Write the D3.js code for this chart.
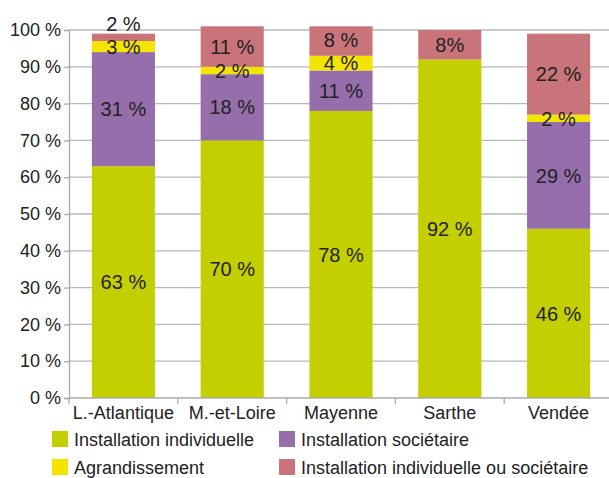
<!DOCTYPE html>
<html>
<head>
<meta charset="utf-8">
<script src="https://cdn.jsdelivr.net/npm/d3@7"></script>
<style>
  body { margin: 0; background: #fff; }
  text { font-family: "Liberation Sans", Arial, sans-serif; fill: #222; }
</style>
</head>
<body>
<svg id="chart" width="609" height="478"></svg>
<script>
// Départements
const categories = ["L.-Atlantique", "M.-et-Loire", "Mayenne", "Sarthe", "Vendée"];
// Share of each type of installation (%)
const individuelle = [63, 70, 78, 92, 46];
const societaire = [31, 18, 11, 0, 29];
const agrandissement = [3, 2, 4, 0, 2];
const indivOuSoc = [2, 11, 8, 8, 22];
// Label text of the top segment ("%" spacing as printed)
const pinkLabels = ["2 %", "11 %", "8 %", "8%", "22 %"];
const yTicks = [0, 10, 20, 30, 40, 50, 60, 70, 80, 90, 100];

const seriesNames = ["Installation individuelle", "Installation sociétaire", "Agrandissement", "Installation individuelle ou sociétaire"];
const colors = ["#c3cf00", "#966eab", "#f4e500", "#c8747a"];

const svg = d3.select("#chart");
const x0 = 69, x1 = 613, yTop = 30, yBottom = 398;

const x = d3.scaleBand().domain(categories).range([x0, x1]).paddingInner(0.42).paddingOuter(0.21);
const y = d3.scaleLinear().domain([0, 100]).range([yBottom, yTop]);

// Gridlines
svg.append("g").selectAll("line").data(yTicks.filter(d => d > 0)).join("line")
  .attr("x1", x0).attr("x2", 609)
  .attr("y1", d => y(d)).attr("y2", d => y(d))
  .attr("stroke", "#b8b8b8").attr("stroke-width", 1.3);

// Stacked data
const rows = categories.map((c, i) => ({
  cat: c, s0: individuelle[i], s1: societaire[i], s2: agrandissement[i], s3: indivOuSoc[i], idx: i
}));
const stack = d3.stack().keys(["s0", "s1", "s2", "s3"]);
const layers = stack(rows);

svg.append("g").selectAll("g").data(layers).join("g")
  .attr("fill", (d, i) => colors[i])
  .selectAll("rect").data(d => d).join("rect")
  .attr("x", d => x(d.data.cat))
  .attr("width", x.bandwidth())
  .attr("y", d => y(d[1]))
  .attr("height", d => y(d[0]) - y(d[1]));

// Segment labels: centred in each segment, pushed up when they would collide
const labelG = svg.append("g").attr("text-anchor", "middle").style("font-size", "20px");
const minGap = 23;
categories.forEach((c, ci) => {
  let prevY = Infinity;
  layers.forEach((layer, li) => {
    const d = layer[ci];
    const v = d[1] - d[0];
    if (v <= 0) return;
    let cy = y((d[0] + d[1]) / 2);
    if (prevY - cy < minGap) cy = prevY - minGap;
    prevY = cy;
    labelG.append("text")
      .attr("x", x(c) + x.bandwidth() / 2)
      .attr("y", cy)
      .attr("dy", "0.36em")
      .text(li === 3 ? pinkLabels[ci] : v + " %");
  });
});

// Y axis
const yAxis = d3.axisLeft(y).tickValues(yTicks).tickSize(5).tickPadding(3).tickFormat(d => d + " %");
const ya = svg.append("g").attr("transform", `translate(${x0},0)`).call(yAxis);
ya.selectAll("text").style("font-size", "18px").attr("fill", "#222");
ya.selectAll("line").attr("stroke", "#aaa").attr("stroke-width", 1.3);
ya.select(".domain").attr("stroke", "#aaa").attr("stroke-width", 1.3);

// X axis
const xa = svg.append("g").attr("transform", `translate(0,${yBottom})`);
xa.append("line").attr("x1", x0).attr("x2", 609).attr("y1", 0).attr("y2", 0)
  .attr("stroke", "#aaa").attr("stroke-width", 1.3);
const step = x.step();
const boundaries = categories.map(c => x(c) + x.bandwidth() + step * x.paddingInner() / 2);
xa.selectAll("line.tk").data([x0, ...boundaries]).join("line").attr("class", "tk")
  .attr("x1", d => d).attr("x2", d => d).attr("y1", 0).attr("y2", 6)
  .attr("stroke", "#aaa").attr("stroke-width", 1.3);
xa.selectAll("text").data(categories).join("text")
  .attr("x", d => x(d) + x.bandwidth() / 2).attr("y", 21)
  .attr("text-anchor", "middle").style("font-size", "18px").text(d => d);

// Legend
const legendPos = [[52, 431], [279, 431], [52, 459], [279, 459]];
const lg = svg.append("g");
seriesNames.forEach((name, i) => {
  const [lx, ly] = legendPos[i];
  lg.append("rect").attr("x", lx).attr("y", ly).attr("width", 16).attr("height", 16).attr("fill", colors[i]);
  lg.append("text").attr("x", lx + 22).attr("y", ly + 15).style("font-size", "18px").text(name);
});
</script>
</body>
</html>
